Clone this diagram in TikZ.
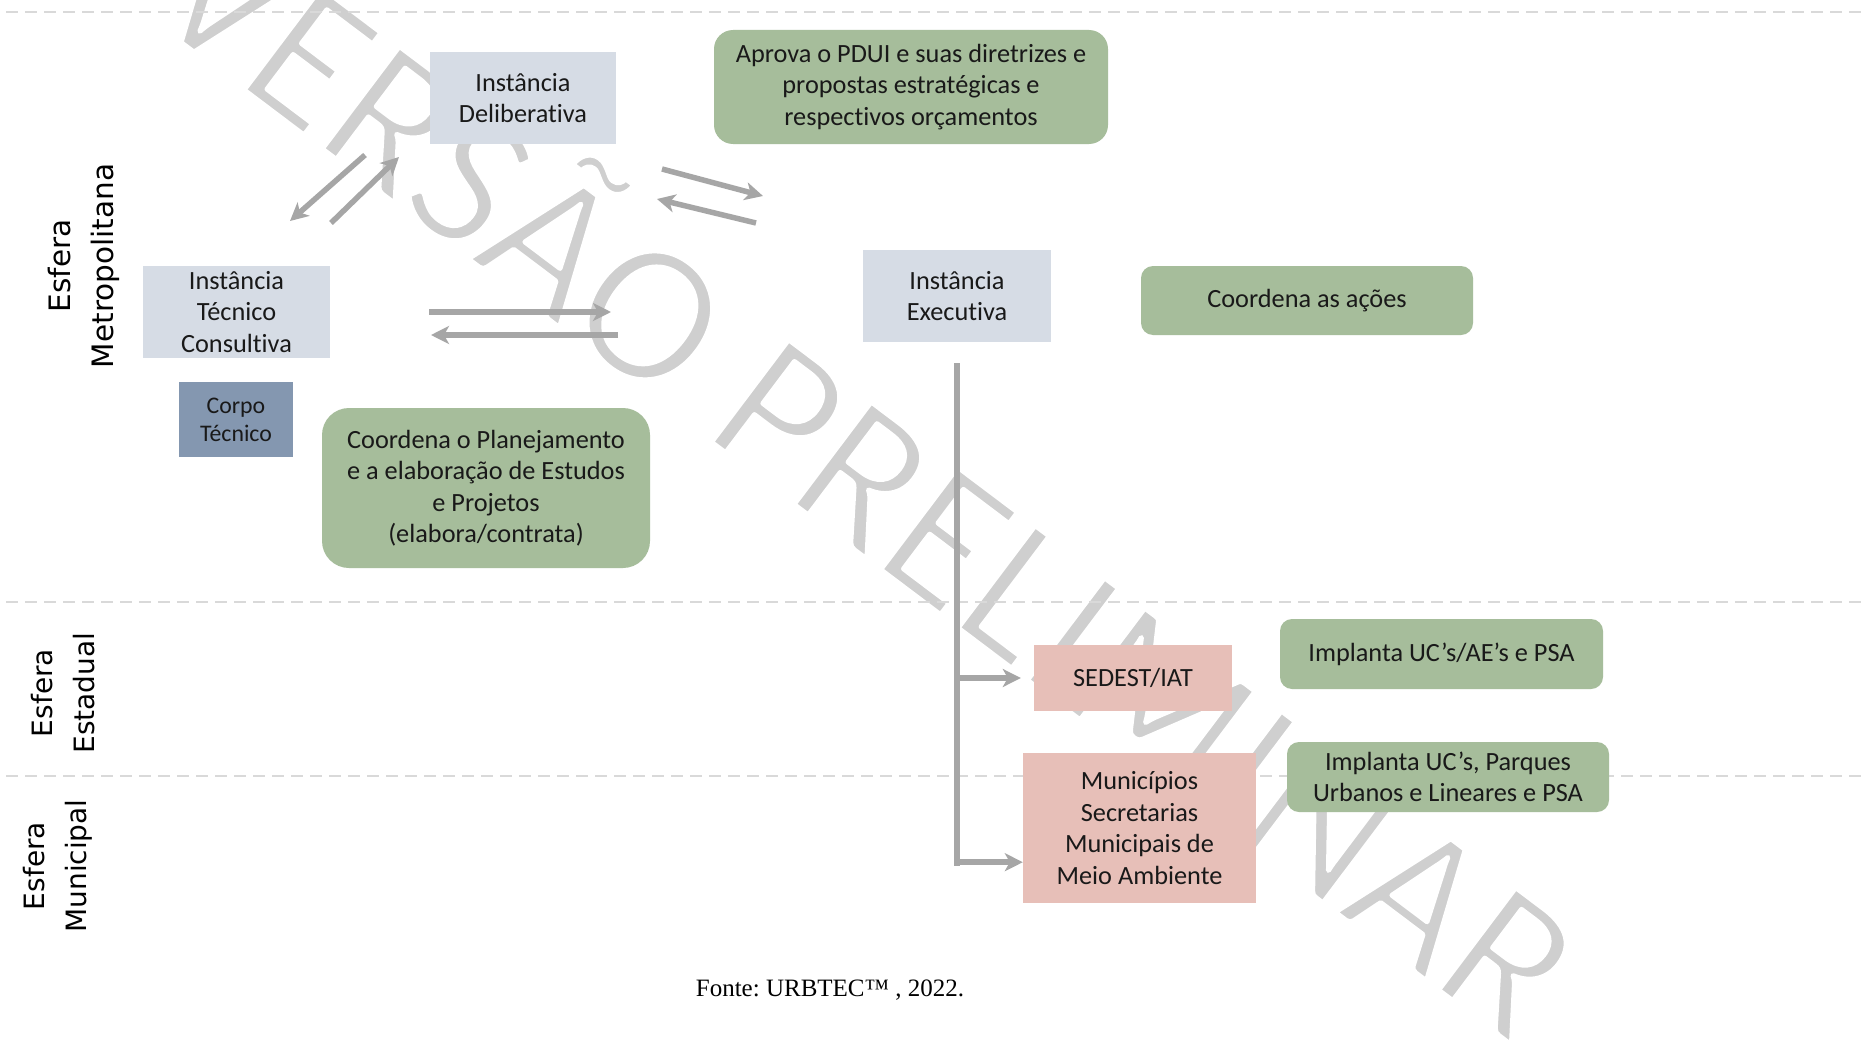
\documentclass[tikz,border=0pt]{standalone}
\usepackage{fontspec}
\setmainfont{Carlito}[Ligatures=NoCommon]
\newfontfamily\sphfont{DejaVu Sans}
\newfontfamily\srcfont{Liberation Serif}
\usetikzlibrary{arrows.meta,calc}
\frenchspacing

\definecolor{paleblue}{HTML}{D6DCE5}
\definecolor{slateblue}{HTML}{8497B0}
\definecolor{sage}{HTML}{A6BD9B}
\definecolor{rose}{HTML}{E7BFB8}
\definecolor{arrowgray}{HTML}{A6A6A6}
\definecolor{markgray}{HTML}{CFCFCF}
\definecolor{rulegray}{HTML}{D9D9D9}

% light-weight glyphs: fill in grey, then stroke the outlines in white
\newcommand{\lightglyphs}[1]{%
  \special{pdf:literal direct 1 1 1 RG 5 w 1 j 2 Tr}#1\special{pdf:literal direct 0 Tr}}

\tikzset{
  box/.style={inner sep=0pt, align=center, text=black!90,
    font=\fontsize{26.3}{31.5}\selectfont},
  bluebox/.style={box, fill=paleblue},
  corpobox/.style={box, fill=slateblue, font=\fontsize{23.8}{28}\selectfont},
  greenbox/.style={box, fill=sage, rounded corners=#1},
  greenbox/.default=12pt,
  pinkbox/.style={box, fill=rose},
  arr/.style={draw=arrowgray, line width=5.5pt,
    -{Stealth[length=18pt, width=18pt, inset=5pt]}},
  trunkline/.style={draw=arrowgray, line width=5.5pt},
  sepline/.style={draw=rulegray, line width=2pt, dash pattern=on 12pt off 7pt},
  sphere/.style={rotate=90, align=center, inner sep=0pt,
    font=\sphfont\fontsize{28}{42}\selectfont},
}

\begin{document}
\begin{tikzpicture}[x=1pt, y=-1pt]
  % page frame
  \fill[white] (0,0) rectangle (1861,1049);
  \useasboundingbox (0,0) rectangle (1861,1049);
  \clip (0,0) rectangle (1861,1049);

  % diagonal watermark behind the chart
  \node[rotate=-37, anchor=base, inner sep=0pt, text=markgray,
        font=\fontsize{200}{240}\selectfont] (wm) at (828,530)
        {\lightglyphs{VERSÃO PRELIMINAR}};

  % dashed separators between the spheres
  \draw[sepline] (6,12) -- (1861,12);
  \draw[sepline] (6,602) -- (1861,602);
  \draw[sepline] (6,776) -- (1861,776);

  % sphere labels
  \node[sphere, font=\sphfont\fontsize{29.5}{43}\selectfont] (lmet) at (83.5,266)
    {Esfera\\Metropolitana};
  \node[sphere] (lest) at (63.5,693) {Esfera\\Estadual};
  \node[sphere] (lmun) at (58,866) {Esfera\\Municipal};

  % metropolitan sphere
  \node[bluebox, minimum width=186pt, minimum height=92pt] (del) at (523,98)
    {Instância\\Deliberativa};
  \node[greenbox=19pt, minimum width=394pt, minimum height=114pt] (apr) at (911,87)
    {Aprova o PDUI e suas diretrizes e\\propostas estratégicas e\\respectivos orçamentos};
  \node[bluebox, minimum width=187pt, minimum height=92pt] (tec) at (236.5,312)
    {Instância\\Técnico\\Consultiva};
  \node[corpobox, minimum width=114pt, minimum height=75pt] (cor) at (236,419.5)
    {Corpo\\Técnico};
  \node[greenbox=27pt, minimum width=328pt, minimum height=160pt] (pla) at (486,488)
    {Coordena o Planejamento\\e a elaboração de Estudos\\e Projetos\\(elabora/contrata)};
  \node[bluebox, minimum width=188pt, minimum height=92pt] (exe) at (957,296)
    {Instância\\Executiva};
  \node[greenbox, minimum width=332pt, minimum height=69pt] (aco) at (1307,300.5)
    {Coordena as ações};

  % state and municipal spheres
  \node[pinkbox, minimum width=198pt, minimum height=66pt] (sed) at (1133,678)
    {SEDEST/IAT};
  \node[greenbox, minimum width=323pt, minimum height=70pt] (imp1) at (1441.5,654)
    {Implanta UC’s/AE’s e PSA};
  \node[pinkbox, minimum width=233pt, minimum height=150pt] (mun) at (1139.5,828)
    {Municípios\\Secretarias\\Municipais de\\Meio Ambiente};
  \node[greenbox, minimum width=322pt, minimum height=70pt] (imp2) at (1448,777)
    {Implanta UC’s, Parques\\Urbanos e Lineares e PSA};

  % exchange arrows
  \coordinate (d1a) at (365,155);  \coordinate (d1b) at (290,221);
  \coordinate (d2a) at (331,223);  \coordinate (d2b) at (399,157);
  \draw[arr] (d1a) -- (d1b);
  \draw[arr] (d2a) -- (d2b);

  \coordinate (h1a) at (429,312);  \coordinate (h1b) at (611,312);
  \coordinate (h2a) at (618,335);  \coordinate (h2b) at (431,335);
  \draw[arr] (h1a) -- (h1b);
  \draw[arr] (h2a) -- (h2b);

  \coordinate (e1a) at (662,169);  \coordinate (e1b) at (763,196);
  \coordinate (e2a) at (756,223);  \coordinate (e2b) at (657,199);
  \draw[arr] (e1a) -- (e1b);
  \draw[arr] (e2a) -- (e2b);

  % executive trunk and branches
  \coordinate (tt) at ($(exe.south)+(0,21)$);
  \coordinate (tb) at (957,866);
  \draw[trunkline] (tt) -- (tb);
  \coordinate (mb) at ($(mun.south west)+(0,-41)$);
  \draw[arr, shorten >=13pt] (tt |- sed.west) -- (sed.west);
  \draw[arr] (tt |- mb) -- (mb);

  % source line
  \node[font=\srcfont\fontsize{25}{30}\selectfont, inner sep=0pt] (src) at (830,990)
    {Fonte: URBTEC™ , 2022.};
\end{tikzpicture}
\end{document}
